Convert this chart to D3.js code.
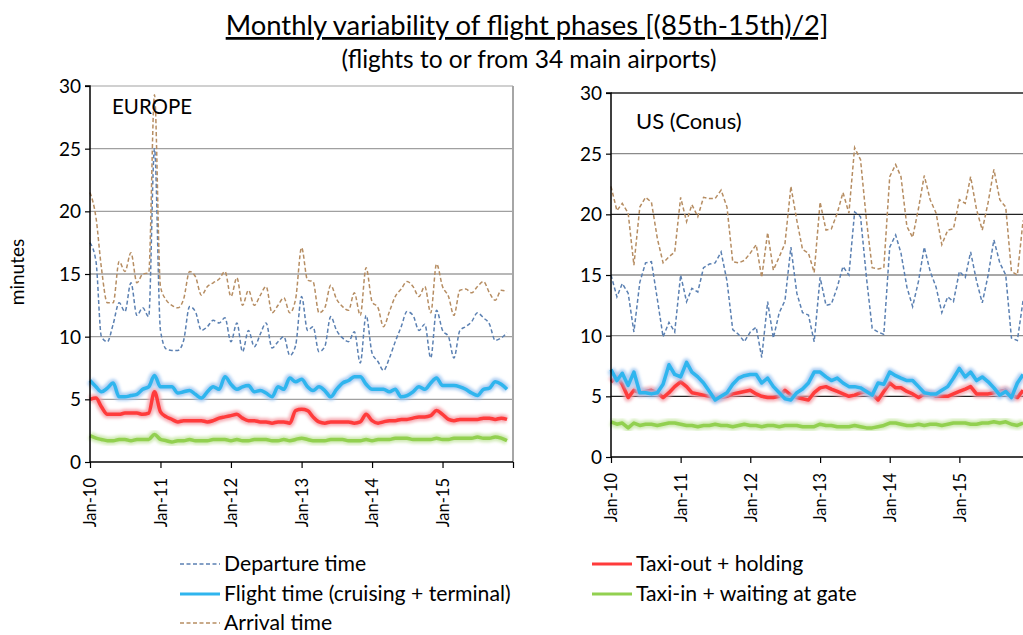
<!DOCTYPE html>
<html><head><meta charset="utf-8">
<script src="https://cdn.jsdelivr.net/npm/d3@7/dist/d3.min.js"></script>
<style>body{margin:0;background:#fff}svg{display:block;font-family:Lato,"Open Sans",sans-serif}</style>
</head><body><svg id="c" width="1023" height="635"></svg>
<script>
const months = d3.range(72).map(i => new Date(2010, i, 1));
const yearTicks = ["Jan-10","Jan-11","Jan-12","Jan-13","Jan-14","Jan-15"];
const yTicks = [0,5,10,15,20,25,30];

const euDeparture = [17.5,16.0,10.0,9.6,11.0,12.7,12.0,14.3,11.7,12.3,11.6,25.0,10.5,9.0,8.9,8.9,9.7,12.4,12.0,10.5,10.8,11.3,11.1,11.5,9.6,11.1,8.8,10.5,9.2,10.2,11.1,9.1,9.6,10.0,8.5,9.3,13.2,10.5,10.8,8.8,9.2,11.6,10.5,9.9,9.6,10.4,7.9,11.7,8.7,8.0,7.3,8.3,9.6,10.8,12.0,11.7,10.5,11.0,8.3,12.1,10.5,10.0,8.3,10.5,10.8,11.2,11.9,11.5,11.0,9.7,9.9,10.3];
const euFlight = [6.5,6.0,5.6,5.9,6.3,5.2,5.2,5.3,5.4,5.8,6.0,6.9,6.0,6.0,6.0,5.5,5.6,5.7,5.4,5.1,5.6,6.0,5.8,6.8,6.2,5.8,6.0,6.1,5.6,5.7,5.5,5.2,6.0,5.8,6.7,6.4,6.6,6.0,5.7,6.0,5.7,5.2,5.8,6.3,6.5,6.8,6.8,6.2,5.8,5.8,5.8,5.6,5.8,5.2,5.3,5.6,6.0,5.8,6.3,6.7,6.1,6.1,6.1,6.0,5.8,5.5,5.3,5.8,5.9,6.4,6.2,5.8];
const euArrival = [21.5,19.5,15.5,12.7,12.7,16.0,15.2,16.7,14.3,15.0,15.1,29.3,14.0,12.9,12.5,12.3,13.0,15.2,14.8,13.3,14.0,14.3,14.6,15.2,13.2,14.7,12.5,13.7,12.5,13.3,14.0,11.9,12.5,13.1,11.9,13.0,17.1,14.5,14.4,11.9,12.3,14.1,13.0,12.4,12.1,13.5,11.7,15.5,12.8,12.3,10.8,12.0,13.2,13.8,14.4,14.0,13.2,14.0,11.9,15.8,14.0,13.2,11.7,13.7,13.8,13.5,14.0,14.4,13.5,12.9,13.7,13.6];
const euTaxiOut = [5.0,5.1,4.4,3.8,3.8,3.8,3.9,3.9,3.9,3.8,3.9,5.6,4.0,3.6,3.4,3.2,3.3,3.3,3.3,3.3,3.2,3.3,3.5,3.6,3.7,3.8,3.5,3.3,3.3,3.2,3.2,3.1,3.2,3.2,3.1,4.1,4.2,4.1,3.6,3.2,3.1,3.2,3.2,3.2,3.2,3.1,3.2,3.8,3.3,3.1,3.2,3.3,3.3,3.4,3.4,3.5,3.6,3.6,3.7,4.1,3.8,3.4,3.3,3.4,3.4,3.4,3.4,3.5,3.5,3.4,3.5,3.4];
const euTaxiIn = [2.1,1.9,1.8,1.7,1.7,1.8,1.8,1.7,1.8,1.8,1.8,2.2,1.8,1.7,1.6,1.7,1.7,1.8,1.7,1.7,1.7,1.8,1.8,1.8,1.7,1.8,1.7,1.7,1.8,1.8,1.8,1.7,1.7,1.8,1.7,1.8,1.9,1.8,1.7,1.7,1.7,1.8,1.8,1.8,1.7,1.7,1.7,1.8,1.7,1.8,1.8,1.8,1.9,1.9,1.9,1.8,1.8,1.8,1.8,1.9,1.8,1.8,1.9,1.9,1.9,1.9,2.0,1.9,1.9,2.0,1.9,1.7];

const usDeparture = [15.0,13.2,14.3,13.5,10.3,14.4,16.0,16.1,13.0,9.9,11.1,10.3,15.0,12.8,13.9,13.6,15.6,15.9,16.0,16.9,14.5,10.5,10.1,9.5,10.3,10.7,8.2,12.8,9.8,11.9,12.9,17.3,13.5,11.9,11.7,9.5,14.8,12.5,12.6,14.0,15.7,15.0,20.2,19.8,14.8,10.6,10.3,10.1,17.3,18.3,16.8,14.0,12.4,14.5,17.3,15.3,14.0,11.9,13.2,12.8,15.3,14.8,16.9,14.5,12.7,15.0,17.9,16.0,15.0,9.8,9.6,12.9];
const usFlight = [7.2,6.3,6.9,5.9,7.0,5.3,5.3,5.2,5.3,6.0,7.6,6.8,6.6,7.8,7.0,6.6,6.1,5.4,4.7,5.0,5.3,6.0,6.5,6.7,6.8,6.8,6.1,6.5,5.8,5.3,4.8,4.7,5.3,5.6,6.1,7.0,7.0,6.6,6.3,6.5,6.1,5.8,5.8,5.7,5.4,5.1,6.1,6.0,7.0,6.7,6.5,6.3,6.3,5.8,5.3,5.2,5.2,5.5,5.8,6.5,7.3,6.6,7.0,6.3,6.6,6.2,5.7,5.1,5.4,4.9,6.1,6.8];
const usArrival = [22.3,20.3,20.9,20.1,15.8,20.6,21.4,21.0,18.0,16.0,16.5,16.9,21.4,19.4,20.8,19.8,21.4,21.3,21.3,22.0,20.6,16.1,16.0,16.2,16.8,17.5,14.8,18.5,15.4,16.5,17.6,22.3,19.5,17.1,16.8,15.2,21.0,18.7,18.8,20.1,21.8,20.1,25.5,24.5,19.5,15.6,15.5,15.6,23.1,24.1,23.1,19.0,18.1,20.5,23.2,21.2,20.1,17.5,18.7,18.8,21.2,20.9,23.1,20.4,18.7,21.0,23.7,21.2,20.6,15.3,15.0,19.5];
const usTaxiOut = [6.2,6.6,6.0,4.9,5.5,5.3,5.4,5.5,5.3,4.9,5.3,5.8,6.2,5.8,5.3,5.2,5.1,5.0,4.9,4.9,5.0,5.2,5.3,5.4,5.5,5.2,5.0,4.9,4.9,5.0,5.5,5.1,4.9,4.8,4.7,5.3,5.7,5.8,5.6,5.4,5.2,5.0,5.1,5.3,5.4,5.2,4.7,5.4,6.1,5.7,5.7,5.4,5.2,4.9,5.2,5.2,5.0,5.0,5.0,5.2,5.4,5.6,5.8,5.2,5.2,5.2,5.3,5.4,5.5,5.1,4.9,5.5];
const usTaxiIn = [2.9,2.7,2.8,2.4,2.8,2.6,2.7,2.7,2.6,2.7,2.8,2.8,2.7,2.6,2.6,2.5,2.6,2.6,2.7,2.6,2.6,2.5,2.6,2.7,2.6,2.6,2.5,2.6,2.6,2.5,2.6,2.6,2.6,2.5,2.5,2.5,2.7,2.6,2.6,2.5,2.5,2.5,2.6,2.5,2.4,2.4,2.5,2.6,2.8,2.8,2.7,2.6,2.6,2.7,2.6,2.7,2.7,2.6,2.7,2.8,2.8,2.8,2.7,2.7,2.8,2.8,2.9,2.8,2.9,2.7,2.6,2.8];

const legendLabels = ["Departure time","Flight time (cruising + terminal)","Arrival time","Taxi-out + holding","Taxi-in + waiting at gate"];

const svg = d3.select("#c");
const defs = svg.append("defs");
defs.append("filter").attr("id","glow").attr("x","-10%").attr("y","-50%").attr("width","120%").attr("height","200%")
  .append("feGaussianBlur").attr("stdDeviation",1.6);

const styles = {
  dep: {color:"#5b80b2", width:1.5, dash:"4,2.5"},
  arr: {color:"#b68d62", width:1.5, dash:"4,2.5"},
  flt: {color:"#2fb5ee", width:3.5, glow:"#9fc6f0"},
  tout:{color:"#ff3b3b", width:3.5, glow:"#f5a0a8"},
  tin: {color:"#92d050", width:3.5, glow:"#c6e6a4"}
};

function panel(cfg){
  const x = d3.scaleTime().domain([new Date(2010,0,1), new Date(2016,0,1)]).range([cfg.x0, cfg.x1]);
  const y = d3.scaleLinear().domain([0,30]).range([cfg.y0, cfg.y1]);
  const g = svg.append("g");
  yTicks.filter(t => t>0).forEach(t => {
    g.append("line").attr("x1",cfg.x0).attr("x2",cfg.x1).attr("y1",y(t)).attr("y2",y(t))
      .attr("stroke", cfg.gridColor(t)).attr("stroke-width", cfg.gridWidth(t));
  });
  if (cfg.rightBorder) g.append("line").attr("x1",cfg.x1).attr("x2",cfg.x1).attr("y1",y(30)).attr("y2",y(0))
      .attr("stroke","#a6a6a6").attr("stroke-width",2);
  const line = vals => d3.line().x((d,i)=>x(months[i])).y(d=>y(d)).curve(cfg.curve)(vals);
  const drawGlow = (vals, s) => {
    g.append("path").attr("d", line(vals)).attr("fill","none").attr("stroke", s.glow)
      .attr("stroke-width", 8).attr("stroke-opacity",0.85).attr("stroke-linejoin","round").attr("filter","url(#glow)");
    g.append("path").attr("d", line(vals)).attr("fill","none").attr("stroke", s.color)
      .attr("stroke-width", s.width).attr("stroke-linejoin","round");
  };
  const drawDash = (vals, s) => {
    g.append("path").attr("d", line(vals)).attr("fill","none").attr("stroke", s.color)
      .attr("stroke-width", s.width).attr("stroke-dasharray", s.dash);
  };
  drawGlow(cfg.tin, styles.tin);
  drawDash(cfg.dep, styles.dep);
  drawDash(cfg.arr, styles.arr);
  drawGlow(cfg.tout, styles.tout);
  drawGlow(cfg.flt, styles.flt);
  const ya = g.append("g").attr("transform",`translate(${cfg.x0},0)`)
    .call(d3.axisLeft(y).tickValues(yTicks).tickSize(5).tickFormat(d3.format("d")));
  ya.select(".domain").attr("stroke","#000").attr("stroke-width",1.5).attr("d",`M-5,${y(30)}H0V${y(0)}`);
  ya.selectAll(".tick line").attr("stroke","#000").attr("stroke-width",1.2);
  ya.selectAll(".tick text").attr("font-size",19).attr("font-family","Lato").attr("fill","#000").attr("x",-9).attr("dy","0.35em");
  const xa = g.append("g").attr("transform",`translate(0,${cfg.y0})`)
    .call(d3.axisBottom(x).tickValues(d3.range(7).map(k=>new Date(2010+k,0,1))).tickSize(6)
      .tickFormat((d,i)=> i<6 ? yearTicks[i] : ""));
  xa.select(".domain").attr("stroke","#000").attr("stroke-width",1.5).attr("d",`M${cfg.x0},0H${cfg.x1}`);
  xa.selectAll(".tick line").attr("stroke","#000").attr("stroke-width",1.2);
  xa.selectAll(".tick text").attr("font-size",16.5).attr("font-family","Lato").attr("fill","#000")
    .attr("transform","rotate(-90)").attr("text-anchor","end").attr("x",-16).attr("y",0).attr("dy","0.35em");
  g.append("text").attr("x",cfg.labelX).attr("y",cfg.labelY).attr("font-size",cfg.labelSize).attr("fill","#000").text(cfg.label);
}

panel({x0:90, x1:513, y0:462, y1:86, curve:d3.curveMonotoneX,
  gridColor:t=> t===30 ? "#d0d0d0" : "#a0a0a0", gridWidth:t=> t===30?2:1.4, rightBorder:true,
  dep:euDeparture, flt:euFlight, arr:euArrival, tout:euTaxiOut, tin:euTaxiIn,
  label:"EUROPE", labelX:112, labelY:114, labelSize:20.5});
panel({x0:611, x1:1029, y0:457, y1:93, curve:d3.curveLinear,
  gridColor:t=> (t===30||t===20||t===5) ? "#222" : "#8a8a8a", gridWidth:t=>1.4, rightBorder:false,
  dep:usDeparture, flt:usFlight, arr:usArrival, tout:usTaxiOut, tin:usTaxiIn,
  label:"US (Conus)", labelX:636, labelY:129, labelSize:22});

svg.append("text").attr("x",527).attr("y",35).attr("text-anchor","middle").attr("font-size",27.4)
  .attr("text-decoration","underline").attr("fill","#000").text("Monthly variability of flight phases [(85th-15th)/2]");
svg.append("text").attr("x",529).attr("y",68).attr("text-anchor","middle").attr("font-size",24.5)
  .attr("fill","#000").text("(flights to or from 34 main airports)");
svg.append("text").attr("transform","translate(24,272) rotate(-90)").attr("text-anchor","middle")
  .attr("font-size",19).attr("fill","#000").text("minutes");

const legendItems = [
  {key:"dep", x:180, y:564}, {key:"flt", x:180, y:594}, {key:"arr", x:180, y:623},
  {key:"tout", x:592, y:564}, {key:"tin", x:592, y:594}
];
legendItems.forEach((it,i) => {
  const s = styles[it.key];
  const lg = svg.append("g");
  lg.append("line").attr("x1",it.x).attr("x2",it.x+40).attr("y1",it.y).attr("y2",it.y)
    .attr("stroke",s.color).attr("stroke-width", s.dash ? 1.5 : 3).attr("stroke-dasharray", s.dash || null);
  lg.append("text").attr("x",it.x+44).attr("y",it.y).attr("dy","0.35em").attr("font-size",21.2)
    .attr("fill","#000").text(legendLabels[i]);
});
</script></body></html>
